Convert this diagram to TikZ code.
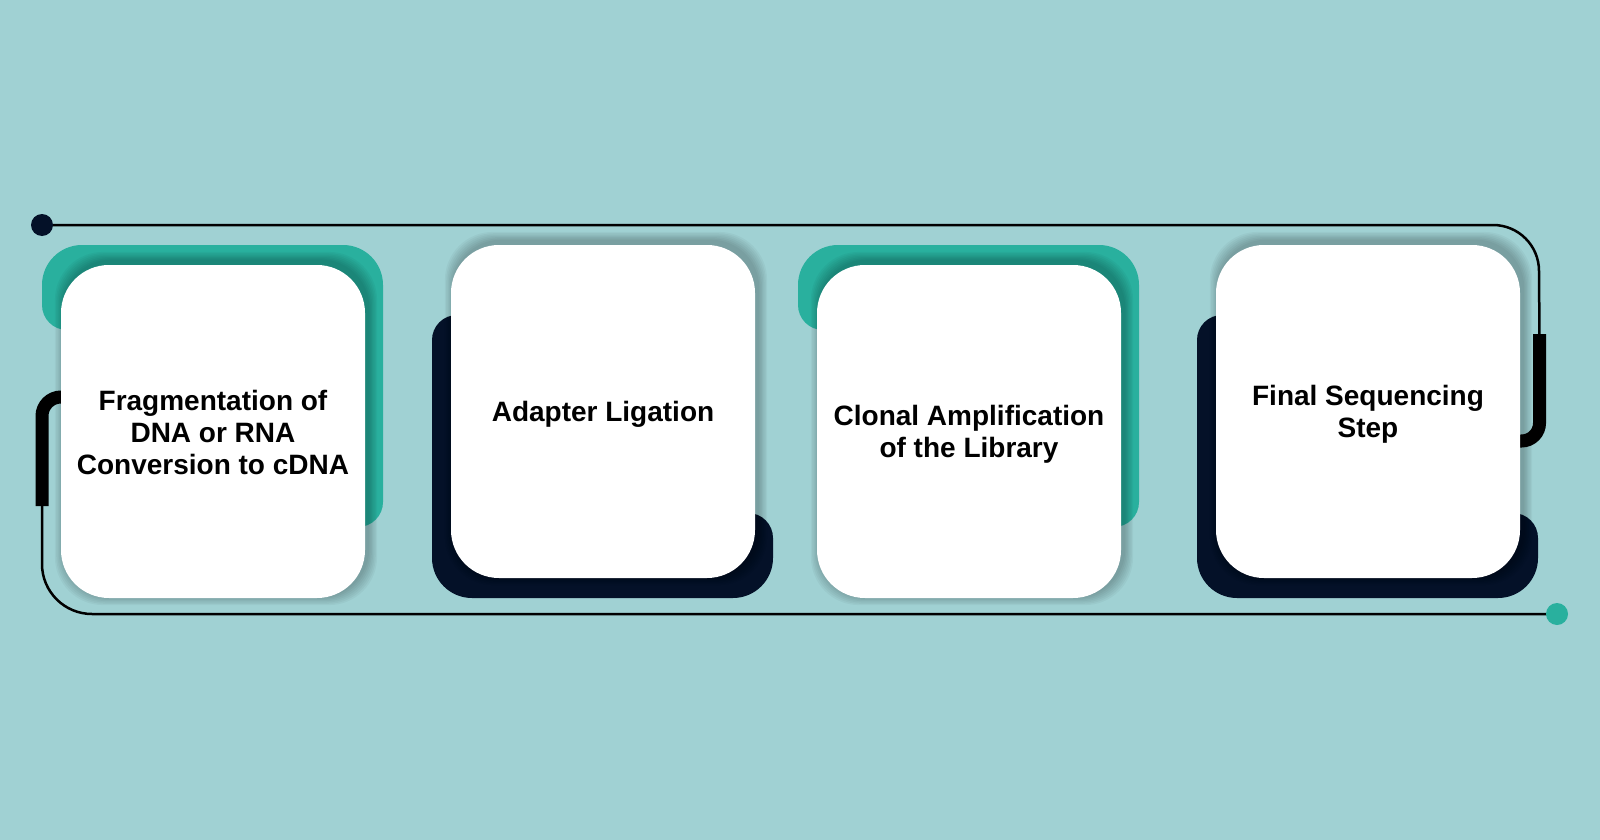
\documentclass[tikz,border=0pt]{standalone}
\usepackage{fontspec}
\setmainfont{Liberation Sans}
\definecolor{bgc}{HTML}{A0D1D3}
\definecolor{tealc}{HTML}{29B09E}
\definecolor{navyc}{HTML}{041128}
\newcommand\darkback[1]{%
  \fill[navyc] (#1,558) -- (#1,340) arc[start angle=180, end angle=270, radius=25]
    -- ({#1+268},315) -- ({#1+268},513) -- ({#1+316},513)
    arc[start angle=270, end angle=360, radius=25] -- ({#1+341},558)
    arc[start angle=0, end angle=90, radius=40] -- ({#1+40},598)
    arc[start angle=90, end angle=180, radius=40] -- cycle;}
\newcommand\tealback[1]{%
  \fill[tealc] (#1,285) -- (#1,305) arc[start angle=180, end angle=90, radius=25]
    -- ({#1+268},330) -- ({#1+268},527) -- ({#1+316},527)
    arc[start angle=90, end angle=0, radius=25] -- ({#1+341},285)
    arc[start angle=0, end angle=-90, radius=40] -- ({#1+40},245)
    arc[start angle=270, end angle=180, radius=40] -- cycle;}
\begin{document}
\begin{tikzpicture}[x=1pt,y=-1pt,
  card/.style={fill=white, rounded corners=48pt, minimum width=304pt, minimum height=333pt,
    inner sep=0pt},
  cardtext/.style={inner sep=0pt, align=center, text=black, font=\fontsize{28}{32}\selectfont\bfseries},
  thinline/.style={line width=2.5pt, black},
  barline/.style={line width=13pt, black},
  dot/.style={circle, minimum size=22pt, inner sep=0pt}]
\useasboundingbox (0,0) rectangle (1600,840);
\fill[bgc] (0,0) rectangle (1600,840);
% track
\coordinate (start) at (42,225);
\coordinate (finish) at (1557,614);
\draw[thinline] (start) -- (1493,225) arc[start angle=270, end angle=360, radius=46] -- (1539.5,340);
\draw[thinline] (42,500) -- (42,564) arc[start angle=180, end angle=90, radius=50] -- (finish);
\draw[barline] (42,506) -- (42,416) arc[start angle=180, end angle=270, radius=19] -- (90,397);
\draw[barline] (1539.5,334) -- (1539.5,423) arc[start angle=0, end angle=90, radius=18] -- (1490,441);
% backings
\tealback{42}
\darkback{432}
\tealback{798}
\darkback{1197}
% shadows
\foreach \cx/\cy in {213/431.5, 603/411.5, 969/431.5, 1368/411.5}{
  \foreach \i in {1,...,7}{
    \pgfmathsetmacro\e{\i*1.3}
    \fill[black, opacity=0.035, rounded corners=48pt]
      ({\cx-152-\e+3},{\cy-166.5-\e-4}) rectangle ({\cx+152+\e+3},{\cy+166.5+\e-2});
  }
}
% cards
\node[card] (c1) at (213,431.5) {};
\node[card] (c2) at (603,411.5) {};
\node[card] (c3) at (969,431.5) {};
\node[card] (c4) at (1368,411.5) {};
\node[cardtext] (t1) at ([yshift=-1pt]c1.center) {Fragmentation of\\DNA or RNA\\Conversion to cDNA};
\node[cardtext] (t2) at ([yshift=-3pt]c2.center) {Adapter Ligation};
\node[cardtext] (t3) at ([yshift=-3pt]c3.center) {Clonal Amplification\\of the Library};
\node[cardtext] (t4) at ([yshift=-3pt]c4.center) {Final Sequencing\\Step};
% dots
\node[dot, fill=navyc] (d1) at (start) {};
\node[dot, fill=tealc] (d2) at (finish) {};
\end{tikzpicture}
\end{document}
